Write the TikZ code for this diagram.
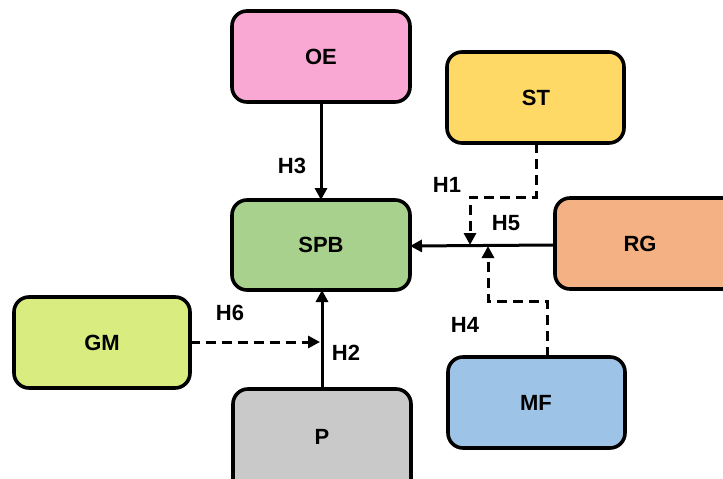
\documentclass[tikz,border=0pt]{standalone}
\usepackage{fontspec}
\setmainfont{Liberation Sans}
\usetikzlibrary{arrows.meta}
\definecolor{cOE}{HTML}{F8A8D2}
\definecolor{cST}{HTML}{FFD966}
\definecolor{cSPB}{HTML}{A9D18E}
\definecolor{cRG}{HTML}{F4B183}
\definecolor{cGM}{HTML}{D9EC80}
\definecolor{cMF}{HTML}{9DC3E6}
\definecolor{cP}{HTML}{C9C9C9}
\tikzset{
  box/.style={draw=black, line width=3.6pt, rounded corners=15pt, inner sep=0pt},
  lbl/.style={font=\fontsize{22}{26}\selectfont\bfseries, inner sep=0pt},
  link/.style={line width=3pt, -{Triangle[length=12pt,width=12pt]}},
  dlink/.style={link, dash pattern=on 10pt off 6pt},
}
\begin{document}
\begin{tikzpicture}[x=1pt,y=-1pt]
\useasboundingbox (0,0) rectangle (723,479);
% boxes: (left,top) rectangle (right,bottom)
\draw[box, fill=cOE]  (232,11) rectangle (410,102);
\draw[box, fill=cST]  (447,52) rectangle (624,143);
\draw[box, fill=cSPB] (232,200) rectangle (410,290);
\draw[box, fill=cRG]  (555,198) rectangle (740,289);
\draw[box, fill=cGM]  (14,297) rectangle (190,388);
\draw[box, fill=cMF]  (448,357) rectangle (625,448);
\draw[box, fill=cP]   (233,389) rectangle (411,495);
\node[lbl] (OE)  at (321,57)  {OE};
\node[lbl] (ST)  at (536,98)  {ST};
\node[lbl] (SPB) at (321,245) {SPB};
\node[lbl] (RG)  at (640,244) {RG};
\node[lbl] (GM)  at (102,343) {GM};
\node[lbl] (MF)  at (536,403) {MF};
\node[lbl] (P)   at (322,437) {P};
% anchor points on box edges
\coordinate (oeB)  at (321,102);
\coordinate (spbT) at (321,200);
\coordinate (spbB) at (322,290);
\coordinate (spbR) at (410,246);
\coordinate (pT)   at (322,389);
\coordinate (gmR)  at (190,342);
\coordinate (h6e)  at (320,342);
\coordinate (rgL)  at (555,245);
\coordinate (stB)  at (536,143);
\coordinate (h1e)  at (470,245);
\coordinate (mfT)  at (547,357);
\coordinate (h4e)  at (488,246);
% connectors
\draw[link] (oeB) -- (spbT);
\draw[link] (pT) -- (spbB);
\draw[dlink] (gmR) -- (h6e);
\draw[link] (rgL) -- (spbR);
\draw[dlink] (stB) -- (536,197) -- (470,197) -- (h1e);
\draw[dlink] (mfT) -- (547,301) -- (488,301) -- (h4e);
% hypothesis labels
\node[lbl] (H1) at (447,185) {H1};
\node[lbl] (H2) at (346,353) {H2};
\node[lbl] (H3) at (292,166) {H3};
\node[lbl] (H4) at (465,325) {H4};
\node[lbl] (H5) at (506,223) {H5};
\node[lbl] (H6) at (230,313) {H6};
\end{tikzpicture}
\end{document}
